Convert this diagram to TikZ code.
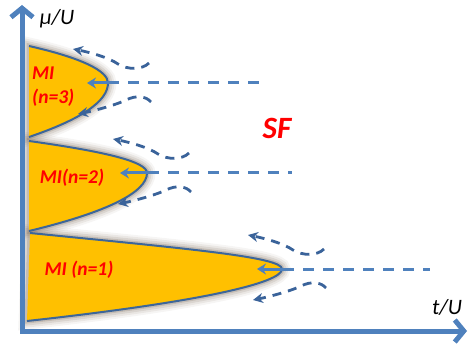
\documentclass[tikz,border=0pt]{standalone}
\usepackage{fontspec}
\setmainfont{Carlito}
\usetikzlibrary{arrows.meta}
\definecolor{axisblue}{HTML}{4F81BD}
\definecolor{darkblue}{HTML}{3A639A}
\definecolor{lobefill}{HTML}{FFC000}
\definecolor{lobeedge}{HTML}{3D6699}
\definecolor{glowc}{HTML}{6E5A46}
\begin{document}
\begin{tikzpicture}[x=1pt,y=-1pt,
  axisline/.style={line width=5pt,draw=axisblue,{Straight Barb[length=9pt,width=22pt]}-{Straight Barb[length=9pt,width=22pt]}},
  glowA/.style={draw=glowc,line width=17pt,opacity=.06},
  glowB/.style={draw=glowc,line width=13pt,opacity=.09},
  glowC/.style={draw=glowc,line width=9pt,opacity=.13},
  glowD/.style={draw=glowc,line width=5pt,opacity=.2},
  lobefill/.style={fill=lobefill},
  lobeborder/.style={draw=lobeedge,line width=2pt},
  sfline/.style={draw=axisblue,line width=3pt,dash pattern=on 11pt off 9pt},
  tiparrow/.style={draw=axisblue,line width=3pt,-{Stealth[length=9pt,width=11pt]}},
  curvearrow/.style={draw=darkblue,line width=2.8pt,dash pattern=on 9pt off 7pt,-{Stealth[length=10pt,width=10pt]}},
  milabel/.style={text=red,font=\fontsize{19.5}{24}\selectfont\bfseries\itshape,inner sep=0pt},
  axislabel/.style={text=black,font=\fontsize{22}{26}\selectfont\itshape,inner sep=0pt}
]
\useasboundingbox (0,0) rectangle (468,347);

\foreach \g in {glowA,glowB,glowC,glowD}{
  \path[\g] (29,46) .. controls (82,58) and (108,71) .. (108,83) .. controls (108,101) and (82,119) .. (29,137) -- cycle;
  \path[\g] (29,141) .. controls (108,152) and (147,162) .. (147,173) .. controls (147,192) and (108,212) .. (29,231) -- cycle;
  \path[\g] (30,233) .. controls (190,249) and (282,257) .. (282,269) .. controls (282,283) and (200,302) .. (27,321) -- cycle;
}
\path[lobefill] (29,46) .. controls (82,58) and (108,71) .. (108,83) .. controls (108,101) and (82,119) .. (29,137) -- cycle;
\path[lobefill] (29,141) .. controls (108,152) and (147,162) .. (147,173) .. controls (147,192) and (108,212) .. (29,231) -- cycle;
\path[lobefill] (30,233) .. controls (190,249) and (282,257) .. (282,269) .. controls (282,283) and (200,302) .. (27,321) -- cycle;
\path[lobeborder] (29,46) .. controls (82,58) and (108,71) .. (108,83) .. controls (108,101) and (82,119) .. (29,137);
\path[lobeborder] (29,141) .. controls (108,152) and (147,162) .. (147,173) .. controls (147,192) and (108,212) .. (29,231);
\path[lobeborder] (30,233) .. controls (190,249) and (282,257) .. (282,269) .. controls (282,283) and (200,302) .. (27,321);

% axes
\coordinate (ytop) at (22,5);
\coordinate (orig) at (22,331);
\coordinate (xend) at (467,331);
\draw[axisline] (ytop) -- (orig) -- (xend);
\node[axislabel] (mulabel) at (57,19) {μ/U};
\node[axislabel] (tlabel) at (447,307) {t/U};

% tips and dashed SF lines
\coordinate (t3) at (108,83);  \coordinate (e3) at (262,83);  \coordinate (a3) at (87,83);
\coordinate (t2) at (148,173); \coordinate (e2) at (292,173); \coordinate (a2) at (120,173);
\coordinate (t1) at (283,269); \coordinate (e1) at (430,269); \coordinate (a1) at (257,269);
\draw[sfline] (t3) -- (e3);
\draw[sfline] (t2) -- (e2);
\draw[sfline] (t1) -- (e1);
\draw[tiparrow] (t3) -- (a3);
\draw[tiparrow] (t2) -- (a2);
\draw[tiparrow] (t1) -- (a1);

% curved arrows
\foreach \t in {t1,t2,t3}{
  \begin{scope}[shift={(\t)}]
    \coordinate (ua) at (41,-20);
    \coordinate (ub) at (-35,-34);
    \coordinate (la) at (43,19);
    \coordinate (lb) at (-30,31);
    \draw[curvearrow] (ua) .. controls (34,-13) and (20,-13) .. (10,-19) .. controls (0,-26) and (-20,-31) .. (ub);
    \draw[curvearrow] (la) .. controls (38,13) and (28,12) .. (18,17) .. controls (8,22) and (-15,28) .. (lb);
  \end{scope}
}

% labels
\node[milabel,align=left,anchor=west] (mi3) at (32,87) {MI\\(n=3)};
\node[milabel] (mi2) at (72,178) {MI(n=2)};
\node[milabel] (mi1) at (79,270) {MI (n=1)};
\node[text=red,font=\fontsize{31}{34}\selectfont\bfseries\itshape,inner sep=0pt] (sf) at (277,128) {SF};
\end{tikzpicture}
\end{document}
